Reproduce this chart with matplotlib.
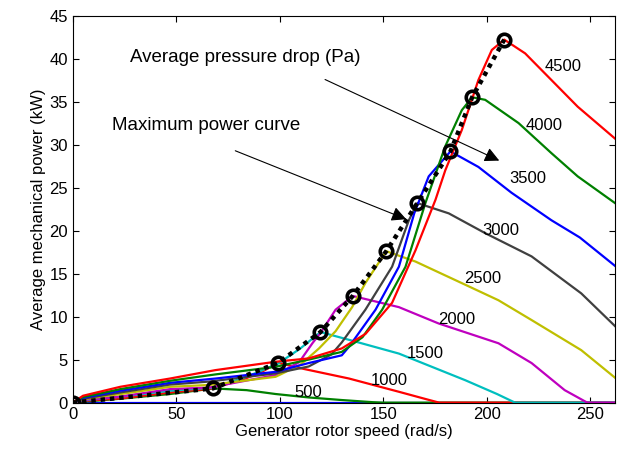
# average mechanical power vs generator rotor speed for several pressure drops
import matplotlib
matplotlib.use("Agg")
import matplotlib.pyplot as plt

plt.rcParams["font.family"] = ["Liberation Sans", "DejaVu Sans"]

# curve data (speed in rad/s, power in kW), one per pressure drop
pressures = ["0", "500", "1000", "1500", "2000", "2500", "3000", "3500", "4000", "4500"]

speed_0 = [0, 262]
power_0 = [0, 0]

speed_500 = [0, 5, 23, 47, 68, 84, 98, 114, 130, 145, 150, 262]
power_500 = [0, 0.1, 0.45, 1.0, 1.65, 1.45, 1.0, 0.6, 0.3, 0.05, 0, 0]

speed_1000 = [0, 5, 23, 47, 66, 80, 90, 99.3, 110, 133.5, 157.6, 170, 177, 262]
power_1000 = [0, 0.2, 0.49, 1.18, 1.6, 2.5, 3.4, 4.63, 4.0, 2.8, 1.26, 0.45, 0, 0]

speed_1500 = [0, 5, 23, 47, 68, 84, 99, 110, 119.7, 133.5, 157.6, 189.7, 205, 213.7, 262]
power_1500 = [0, 0.25, 0.68, 1.38, 1.75, 3.0, 4.5, 6.3, 8.2, 7.3, 5.7, 2.6, 1.0, 0, 0]

speed_2000 = [0, 5, 23, 47, 66, 98, 109.4, 115.8, 120, 127, 135.3, 157.6, 176.8, 205.7, 221.7, 237.7, 248.6, 262]
power_2000 = [0, 0.3, 0.7, 1.57, 1.75, 3.2, 4.7, 6.9, 8.2, 10.8, 12.4, 11.1, 9.2, 6.9, 4.6, 1.45, 0, 0]

speed_2500 = [0, 5, 23, 47, 66, 98, 110, 119, 127, 135, 141.4, 151.5, 165.6, 189.7, 205.7, 221.7, 245.7, 262]
power_2500 = [0, 0.4, 0.99, 1.84, 2.05, 3.0, 4.4, 6.3, 8.3, 11.1, 13.9, 17.6, 16.4, 13.7, 11.9, 9.6, 6.1, 2.9]

speed_3000 = [0, 5, 23, 47, 66, 98, 114, 125, 130, 141.4, 154.3, 162.4, 166.5, 181.7, 199.3, 221.7, 245.7, 262]
power_3000 = [0, 0.45, 1.18, 2.1, 2.45, 3.4, 4.2, 5.6, 7.0, 10.8, 15.8, 21.2, 23.2, 22, 19.7, 17, 12.7, 8.9]

speed_3500 = [0, 5, 23, 47, 69, 98, 114, 130, 133.5, 146.3, 157.6, 165, 172, 182.5, 196, 212, 231.3, 245, 262]
power_3500 = [0, 0.55, 1.38, 2.3, 2.8, 3.58, 4.6, 5.5, 6.5, 10.8, 15.8, 22, 26.3, 29.2, 27.4, 24.4, 21.2, 19.2, 15.9]

speed_4000 = [0, 5, 23, 47, 69, 98, 114, 130, 140, 149.5, 160.8, 170.4, 180, 188, 193, 199.3, 215.4, 231.3, 244, 262]
power_4000 = [0, 0.65, 1.57, 2.54, 3.28, 4.16, 5.0, 5.9, 7.6, 10.8, 15.8, 23.2, 29.8, 34, 35.5, 35.2, 32.5, 29, 26.3, 23.2]

speed_4500 = [0, 5, 23, 47, 69, 98, 114, 130, 141.5, 154.3, 165.6, 175.3, 180, 188, 196, 202.5, 208.5, 218.6, 231.3, 244, 262]
power_4500 = [0, 0.8, 1.84, 2.8, 3.78, 4.75, 5.14, 6.3, 8.0, 11.6, 17.7, 23.6, 27, 31.7, 37.5, 41, 42.2, 40.6, 37.5, 34.4, 30.7]

# maximum power points
opt_speed = [0, 67.7, 99.3, 119.7, 135.3, 151.5, 166.5, 182.5, 193, 208.5]
opt_power = [0, 1.65, 4.63, 8.2, 12.4, 17.6, 23.2, 29.2, 35.5, 42.2]

# label positions for the pressure values
label_x = [None, 114, 153, 170.5, 185.5, 198, 207, 220, 228, 237]
label_y = [None, 1.2, 2.6, 5.7, 9.7, 14.4, 20.0, 26.1, 32.2, 39.1]

speeds = [speed_0, speed_500, speed_1000, speed_1500, speed_2000,
          speed_2500, speed_3000, speed_3500, speed_4000, speed_4500]
powers = [power_0, power_500, power_1000, power_1500, power_2000,
          power_2500, power_3000, power_3500, power_4000, power_4500]

colors = [(0, 0, 1), (0, 0.5, 0), (1, 0, 0), (0, 0.75, 0.75), (0.75, 0, 0.75),
          (0.75, 0.75, 0), (0.25, 0.25, 0.25), (0, 0, 1), (0, 0.5, 0), (1, 0, 0)]

fig = plt.figure(figsize=(6.19, 4.57), dpi=100)
ax = fig.add_axes([0.1175, 0.119, 0.876, 0.847])

for s, p, c in zip(speeds, powers, colors):
    ax.plot(s, p, color=c, lw=1.6)

ax.plot(opt_speed, opt_power, color="k", lw=3.2, linestyle=(0, (1, 1.1)))
ax.plot(opt_speed, opt_power, "o", color="k", mfc="none", ms=9, mew=2.6)

for name, lx, ly in zip(pressures, label_x, label_y):
    if lx is not None:
        ax.text(lx, ly, name, fontsize=12, ha="center", va="center")

ax.text(27.5, 40.1, "Average pressure drop (Pa)", fontsize=13.5, va="center")
ax.annotate("", xy=(207.3, 28.0), xytext=(120.7, 37.7),
            arrowprops=dict(arrowstyle="-|>", color="k", lw=0.8, mutation_scale=22))
ax.text(19, 32.2, "Maximum power curve", fontsize=13.5, va="center")
ax.annotate("", xy=(162.4, 21.2), xytext=(77.3, 29.4),
            arrowprops=dict(arrowstyle="-|>", color="k", lw=0.8, mutation_scale=22))

ax.set_xlim(0, 262)
ax.set_ylim(0, 45)
ax.set_xticks([0, 50, 100, 150, 200, 250])
ax.set_yticks(range(0, 46, 5))
ax.tick_params(direction="in", top=True, right=True, labelsize=12, length=4)
ax.set_xlabel("Generator rotor speed (rad/s)", fontsize=12, labelpad=1)
ax.set_ylabel("Average mechanical power (kW)", fontsize=12, labelpad=2)

fig.savefig("out.png", dpi=100)
